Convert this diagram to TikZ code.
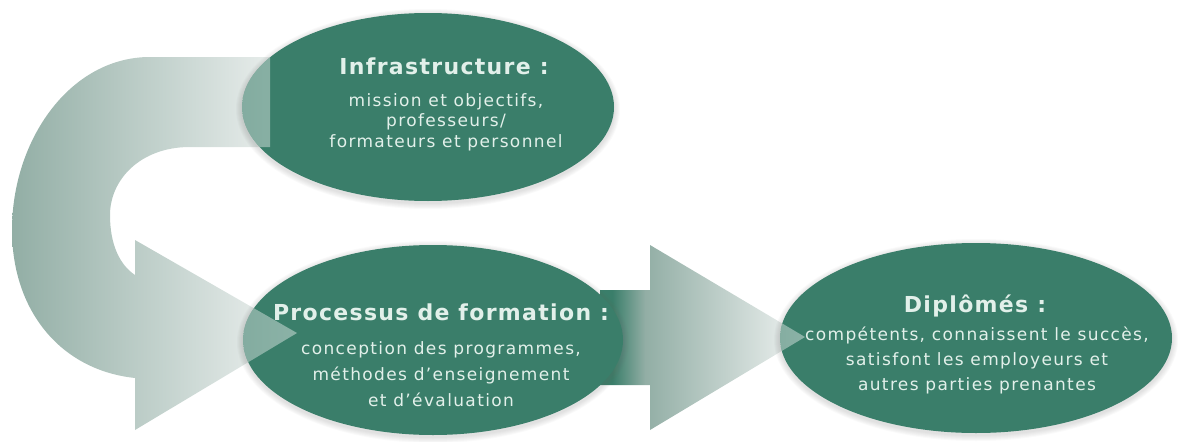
\documentclass[tikz,border=0pt]{standalone}
\usepackage{fontspec}
\setmainfont{DejaVu Sans}[LetterSpace=6]
\usetikzlibrary{shapes.geometric}

\definecolor{vertfonce}{RGB}{58,126,106}
\definecolor{texteclair}{RGB}{226,240,234}
\definecolor{grisfonce}{RGB}{146,174,165}
\definecolor{grisclair}{RGB}{240,243,242}

% shading of the straight arrow
\pgfdeclarehorizontalshading{degradedroit}{100bp}{color(0bp)=(vertfonce); color(28bp)=(vertfonce);
  color(36bp)=(grisfonce); color(75bp)=(grisclair); color(100bp)=(grisclair)}

\tikzset{
  bulle/.style={ellipse, fill=vertfonce, inner sep=0pt},
  titre/.style={text=texteclair, anchor=base, inner sep=0pt,
    font=\fontsize{22}{24}\selectfont\bfseries},
  texte/.style={text=texteclair, align=center, inner sep=0pt,
    font=\fontsize{17}{#1}\selectfont\addfontfeatures{LetterSpace=8}},
  fleche/.style={left color=grisfonce, right color=grisclair, draw=none},
  flechedroite/.style={shading=degradedroit, draw=none},
}

% block arrows
\newcommand{\courbe}{(270,57) -- (150,57) .. controls (70,57) and (12,140) .. (12,230)
  .. controls (12,310) and (60,370) .. (135,378) -- (135,430) -- (297,333)
  -- (135,240) -- (135,275) .. controls (120,265) and (110,245) .. (110,215)
  .. controls (110,180) and (140,147) .. (190,147) -- (270,147) -- cycle}
\newcommand{\droite}{(600,290) -- (650,290) -- (650,245) -- (805,337)
  -- (650,430) -- (650,385) -- (600,385) -- cycle}

\begin{document}
\begin{tikzpicture}[x=1pt,y=-1pt]
\useasboundingbox (0,0) rectangle (1179,442);

% arrows behind
\shade[fleche] \courbe;
\shade[flechedroite] \droite;

% soft edges
\foreach \cx/\cy/\rx/\ry in {428/107/186/94, 433/340/190/95, 976/338/196/95}
  \foreach \i in {1,...,6}
    \fill[black!60, opacity=0.035] (\cx,\cy+2) ellipse [x radius=\rx pt+\i pt, y radius=\ry pt+\i pt];

% ellipses
\node[bulle, minimum width=372pt, minimum height=188pt] (infra) at (428,107) {};
\node[bulle, minimum width=380pt, minimum height=190pt] (processus) at (433,340) {};
\node[bulle, minimum width=392pt, minimum height=190pt] (diplomes) at (976,338) {};

% arrows seen through
\begin{scope}
  \clip (infra.center) ellipse [x radius=186pt, y radius=94pt];
  \shade[fleche, opacity=0.45] \courbe;
\end{scope}
\begin{scope}
  \clip (processus.center) ellipse [x radius=190pt, y radius=95pt];
  \shade[fleche, opacity=0.45] \courbe;
\end{scope}
\begin{scope}
  \clip (diplomes.center) ellipse [x radius=196pt, y radius=95pt];
  \shade[flechedroite, opacity=0.45] \droite;
\end{scope}

% texts
\node[titre] (infratitre) at (444,74) {Infrastructure :};
\node[texte=20.5] (infratxt) at (446,122) {mission et objectifs,\\ professeurs/\\ formateurs et personnel};
\node[titre] (processustitre) at (441,320) {Processus de formation :};
\node[texte=26] (processustxt) at (441,374) {conception des programmes,\\ méthodes d’enseignement\\ et d’évaluation};
\node[titre] (diplomestitre) at (975,312) {Diplômés :};
\node[texte=25] (diplomestxt) at (977,360) {compétents, connaissent le succès,\\ satisfont les employeurs et\\ autres parties prenantes};
\end{tikzpicture}
\end{document}
